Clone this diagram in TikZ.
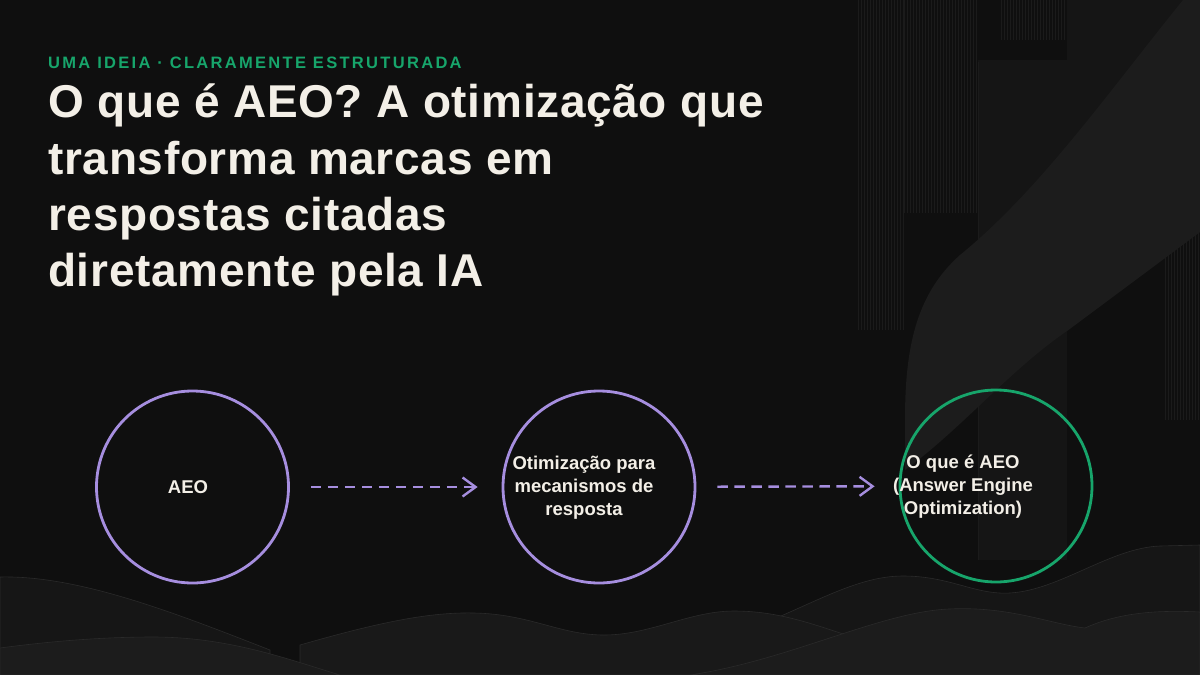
\documentclass[tikz,border=0pt]{standalone}
\usepackage{fontspec}
\setmainfont{Liberation Sans}
\newfontfamily\titlefont[LetterSpace=1.5]{Liberation Sans}
\newfontfamily\kickerfont[LetterSpace=14]{Liberation Sans}
\usetikzlibrary{arrows.meta}
\definecolor{bg}{HTML}{0F0F0F}
\definecolor{offwhite}{HTML}{F3EFE7}
\definecolor{kgreen}{HTML}{17A56B}
\definecolor{lav}{HTML}{A68EDF}
\definecolor{stripec}{HTML}{1B1B1B}
\definecolor{panelc}{HTML}{151515}
\definecolor{bandc}{HTML}{1C1C1C}
\definecolor{hillA}{HTML}{161616}
\definecolor{hillB}{HTML}{191919}
\definecolor{hillC}{HTML}{1C1C1C}
\definecolor{hilledge}{HTML}{2A2A2A}
\begin{document}
\begin{tikzpicture}[x=1pt,y=-1pt,
  titleline/.style={anchor=base west, inner sep=0pt, text=offwhite,
    font=\titlefont\bfseries\fontsize{46}{56}\selectfont},
  kicker/.style={anchor=base west, inner sep=0pt, text=kgreen,
    font=\kickerfont\bfseries\fontsize{16.5}{18}\selectfont},
  ring/.style={circle, minimum size=192pt, inner sep=0pt, line width=2.8pt},
  ringtext/.style={align=center, text=offwhite, inner sep=0pt,
    font=\bfseries\fontsize{18.5}{23}\selectfont},
  flow/.style={draw=lav, line width=2.4pt, dash pattern=on 10.5pt off 6.5pt,
    shorten <=21pt, shorten >=24pt,
    -{Straight Barb[length=13pt,width=19pt,line width=2.4pt]}},
  stripe/.style={draw=stripec, line width=0.7pt},
  hill/.style={draw=hilledge, line width=0.6pt}]
\useasboundingbox (0,0) rectangle (1200,675);
\fill[bg] (0,0) rectangle (1200,675);
% background panels (top right)
\fill[panelc] (1067,0) -- (1200,0) -- (1200,232) -- (1067,331) -- cycle;
\fill[panelc] (978,60) rectangle (1067,560);
\draw[stripec, line width=1pt] (978,62) -- (978,560);
\foreach \x in {858,861,...,903} \draw[stripe] (\x,0) -- (\x,330);
\foreach \x in {904,907,...,976} \draw[stripe] (\x,0) -- (\x,213);
\foreach \x in {1001,1004,...,1066} \draw[stripe] (\x,0) -- (\x,40);
\foreach \x in {1165,1168,...,1199} \draw[stripe] (\x,232) -- (\x,420);
% diagonal band
\fill[bandc] (1183,0) .. controls (1110,90) and (1040,190) .. (960,255)
  .. controls (915,295) and (905,350) .. (905,420)
  -- (905,470) .. controls (960,430) and (1010,370) .. (1067,331)
  -- (1200,232) -- (1200,0) -- cycle;
% bottom hills
\fill[hillA, hill] (0,577) .. controls (80,575) and (180,615) .. (270,650)
  -- (270,675) -- (0,675) -- cycle;
\fill[hillA, hill] (760,675) -- (760,625) .. controls (820,600) and (860,576) .. (903,576)
  .. controls (950,576) and (975,595) .. (1010,593)
  .. controls (1060,590) and (1110,548) .. (1160,546) -- (1200,545)
  -- (1200,675) -- cycle;
\fill[hillB, hill] (300,645) .. controls (380,622) and (430,612) .. (474,613)
  .. controls (530,614) and (560,635) .. (604,635)
  .. controls (650,635) and (690,611) .. (734,611)
  .. controls (790,611) and (830,632) .. (880,645) -- (880,675) -- (300,675) -- cycle;
\fill[hillC, hill] (0,648) .. controls (60,640) and (110,637) .. (153,637)
  .. controls (230,637) and (290,660) .. (340,675) -- (0,675) -- cycle;
\fill[hillC, hill] (690,675) .. controls (790,660) and (880,612) .. (949,609)
  .. controls (1010,606) and (1050,624) .. (1085,628)
  .. controls (1120,612) and (1160,610) .. (1200,612) -- (1200,675) -- cycle;
% heading
\node[kicker] (kick) at (48,68.3) {UMA IDEIA · CLARAMENTE ESTRUTURADA};
\node[titleline] (l1) at (48,117.7) {O que é AEO? A otimização que};
\node[titleline] (l2) at (48,174.0) {transforma marcas em};
\node[titleline] (l3) at (48,230.3) {respostas citadas};
\node[titleline] (l4) at (48,286.7) {diretamente pela IA};
% circles
\node[ring, draw=lav] (c1) at (192.5,487) {};
\node[ring, draw=lav] (c2) at (599,487) {};
\node[ring, draw=kgreen] (c3) at (996,486) {};
\node[ringtext] (t1) at (188,487) {AEO};
\node[ringtext] (t2) at (584,488) {Otimização para\\mecanismos de\\resposta};
\node[ringtext] (t3) at (963,487) {O que é AEO\\(Answer Engine\\Optimization)};
% connectors
\draw[flow] (c1) -- (c2);
\draw[flow] (c2) -- (c3);
\end{tikzpicture}
\end{document}
